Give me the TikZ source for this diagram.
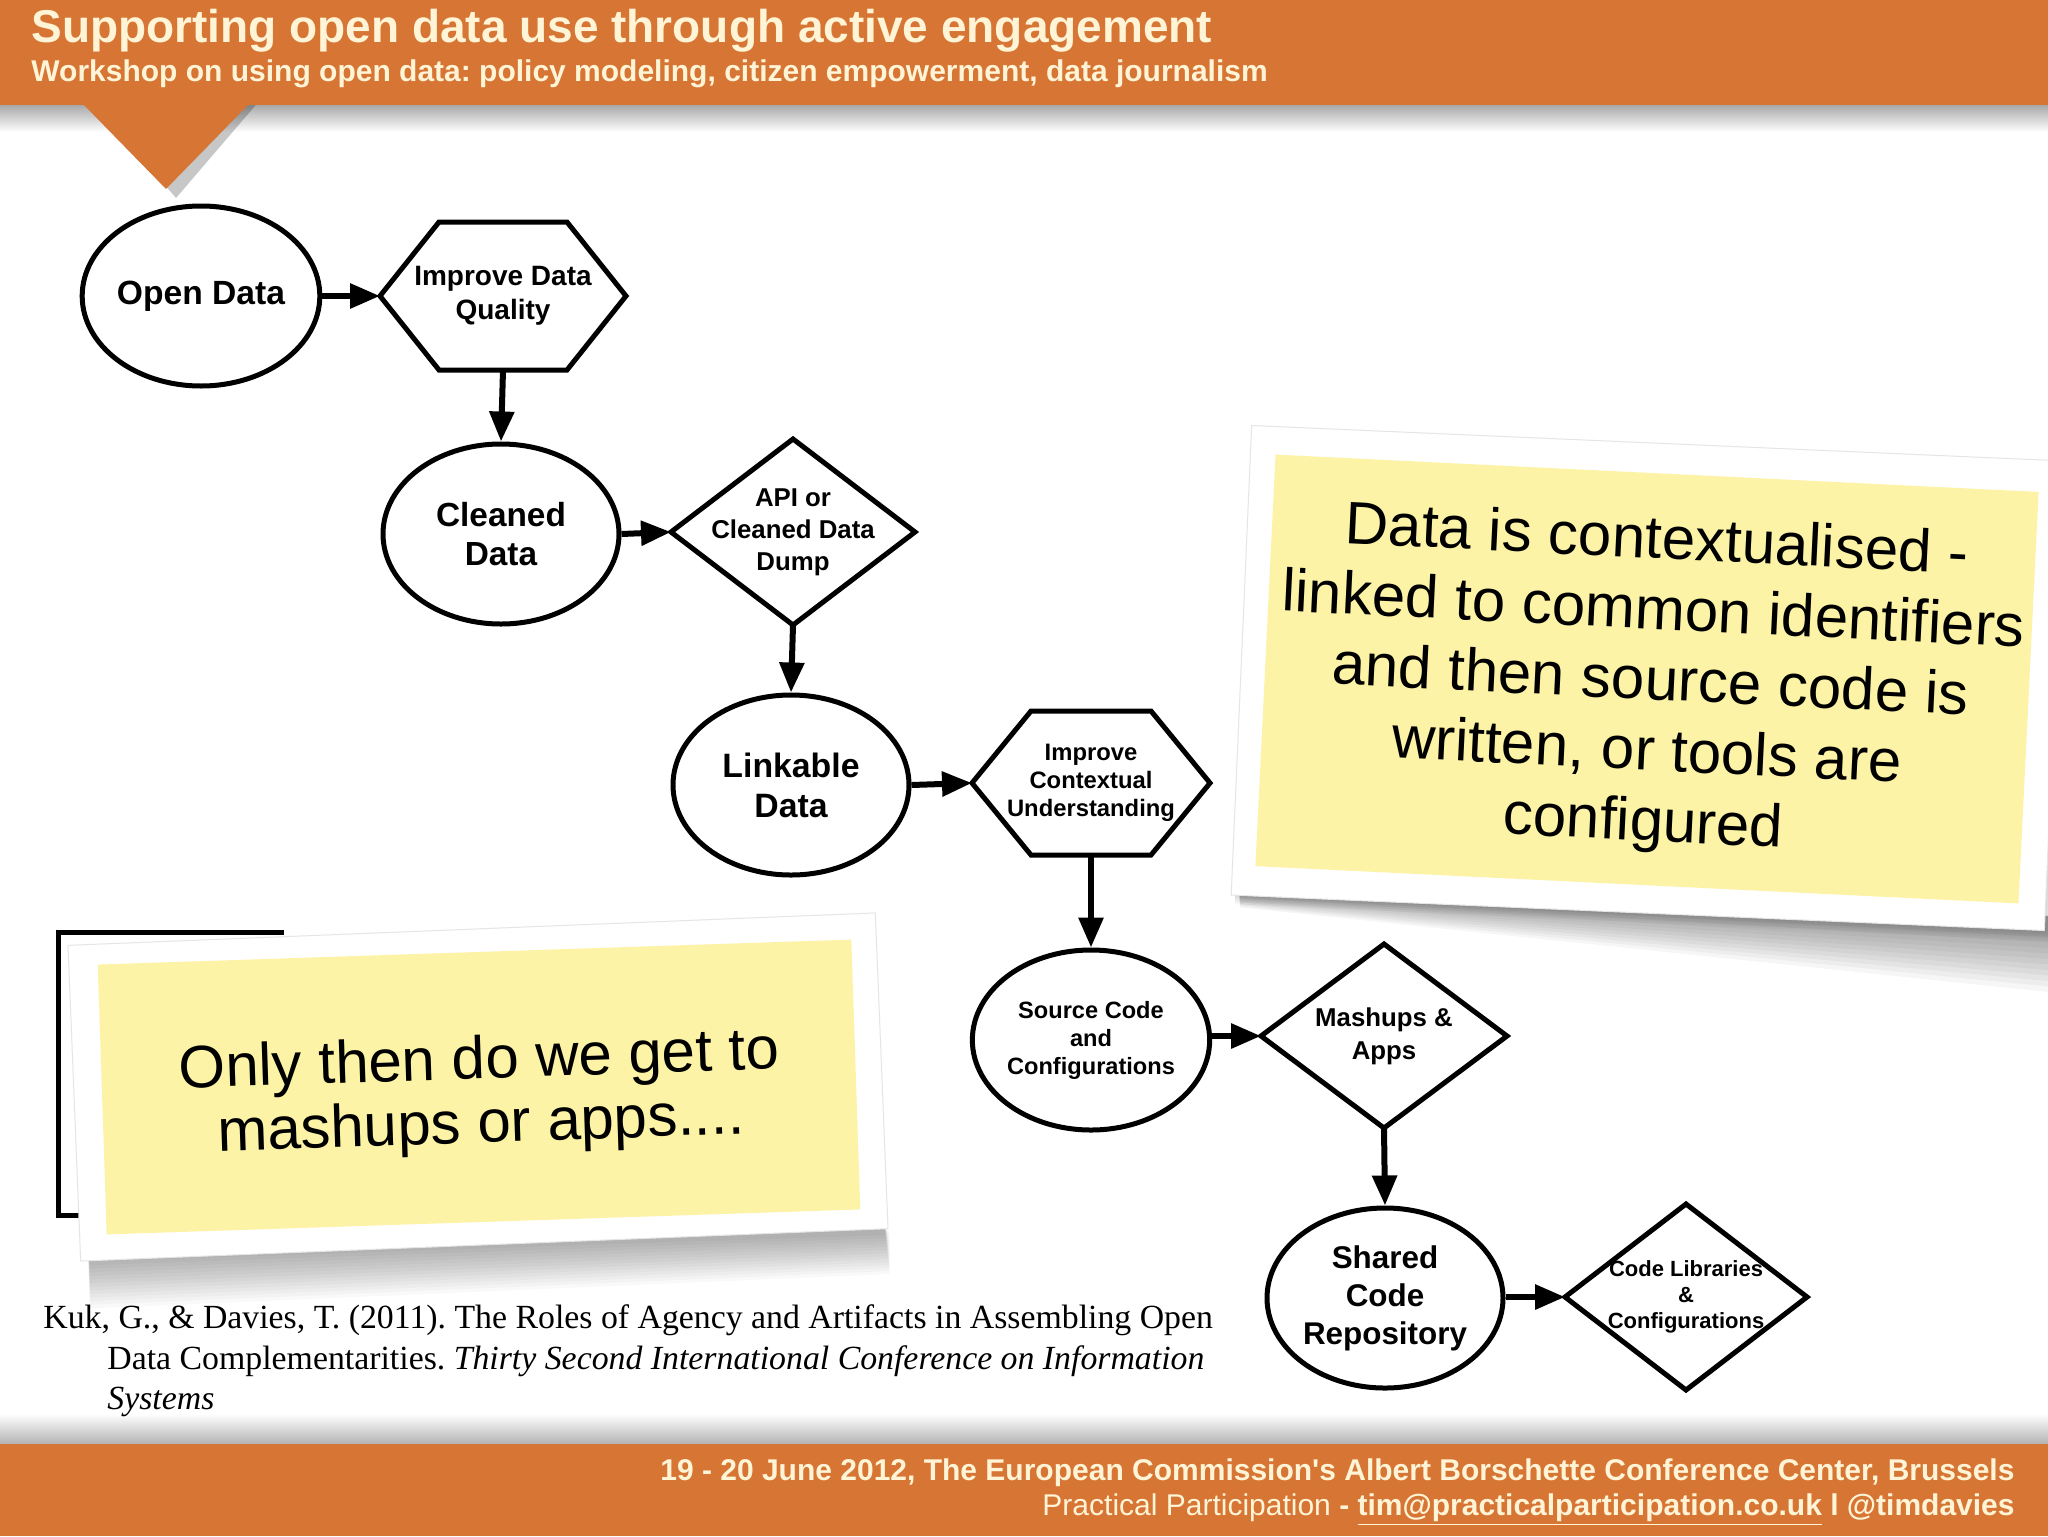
\documentclass[tikz,border=0pt]{standalone}
\usepackage{fontspec}
\setmainfont{Liberation Sans}
\newfontfamily\citefont{Liberation Serif}
\usetikzlibrary{shapes.geometric,arrows.meta,calc}
\definecolor{bandorange}{RGB}{214,117,52}
\definecolor{cream}{RGB}{255,244,214}
\definecolor{noteyellow}{RGB}{252,243,166}
\newcommand\drawdiamond[1]{\draw[shapeline] (#1.west) -- (#1.north) -- (#1.east) -- (#1.south) -- cycle;}
\newcommand\drawhex[2]{\draw[shapeline] (#1.west) -- ($(#1.north west)+(#2,0)$) -- ($(#1.north east)+(-#2,0)$) -- (#1.east) -- ($(#1.south east)+(-#2,0)$) -- ($(#1.south west)+(#2,0)$) -- cycle;}
\frenchspacing
\begin{document}
\begin{tikzpicture}[x=0.5pt,y=-0.5pt,
  ell/.style={ellipse, draw, line width=2.5pt, minimum width=118pt, minimum height=90pt, inner sep=0pt, align=center},
  shapebox/.style={rectangle, inner sep=0pt, outer sep=0pt, align=center},
  shapeline/.style={line width=2.5pt, line join=miter},
  arr/.style={line width=3pt, -{Triangle[length=15pt,width=12pt]}},
  bandtext/.style={text=cream, inner sep=0pt},
  notetext/.style={align=center, inner sep=0pt, font=\fontsize{30}{35.3}\selectfont},
  citetext/.style={anchor=base west, inner sep=0pt, font=\citefont\fontsize{16.9}{20}\selectfont}
]
\useasboundingbox (0,0) rectangle (2048,1536);
\fill[white] (0,0) rectangle (2048,1536);

% ---------- header ----------
\shade[top color=black!40, bottom color=white] (0,100) rectangle (2048,132);
\fill[black, opacity=0.22] (92,100) -- (260,100) -- (176,198) -- cycle;
\fill[bandorange] (0,0) rectangle (2048,105);
\fill[bandorange] (83,104) -- (249,104) -- (166,189) -- cycle;
\node[bandtext, anchor=base west, font=\fontsize{23}{27}\selectfont\bfseries] (title) at (31,43) {Supporting open data use through active engagement};
\node[bandtext, anchor=base west, font=\fontsize{15}{18}\selectfont\bfseries] (subtitle) at (31,82) {Workshop on using open data: policy modeling, citizen empowerment, data journalism};

% ---------- footer ----------
\shade[top color=white, bottom color=black!30] (0,1414) rectangle (2048,1444);
\fill[bandorange] (0,1444) rectangle (2048,1536);
\node[bandtext, anchor=base east, font=\fontsize{15}{18}\selectfont\bfseries] (foot1) at (2015,1480) {19 - 20 June 2012, The European Commission\textquotesingle s Albert Borschette Conference Center, Brussels};
\node[bandtext, anchor=base east, font=\fontsize{15}{18}\selectfont] (foot2) at (2015,1515) {Practical Participation \textbf{- \underline{tim@practicalparticipation.co.uk} l @timdavies}};

% ---------- right sticky note ----------
\foreach \i in {1,...,12}
  \fill[black, opacity=0.035] (1238,880) -- (2048,916) -- (2048,926+5.5*\i) -- (1240,893+1.2*\i) -- cycle;
\foreach \i in {1,...,5}
  \node[rotate=-2.6, fill=black, opacity=0.03, inner sep=0pt,
        minimum width={(405+\i)*1pt}, minimum height={(233+\i)*1pt}] at (1650+\i, 680+\i) {};
\node[rotate=-2.5, fill=white, draw=black!10, line width=0.5pt, inner sep=0pt,
      minimum width=407pt, minimum height=235pt] (rpaper) at (1648,678) {};
\node[rotate=-2.8, fill=noteyellow, inner sep=0pt,
      minimum width=382pt, minimum height=206pt] (ryellow) at (1647,679) {};
\node[notetext, rotate=-2.8] (rtext) at (1650,684)
  {Data is contextualised -\\linked to common identifiers\\and then source code is\\written, or tools are\\configured};

% ---------- left sticky note ----------
\draw[line width=2.5pt] (284,932) -- (58,932) -- (58,1215) -- (80,1215);
\foreach \i in {1,...,14}
  \fill[black, opacity=0.022] (88,1250) -- (884,1222) -- (890,1232+3.0*\i) -- (90,1258+3.6*\i) -- cycle;
\node[rotate=2.3, fill=white, draw=black!10, line width=0.5pt, inner sep=0pt,
      minimum width=404pt, minimum height=158pt] (lpaper) at (478,1087) {};
\node[rotate=1.9, fill=noteyellow, inner sep=0pt,
      minimum width=377pt, minimum height=135pt] (lyellow) at (479,1087) {};
\node[notetext, rotate=1.9, font=\fontsize{30}{32}\selectfont] (ltext) at (480,1095)
  {Only then do we get to\\mashups or apps....};

% ---------- citation ----------
\node[citetext] (cite1) at (43,1328)
  {Kuk, G., \& Davies, T. (2011). The Roles of Agency and Artifacts in Assembling Open};
\node[citetext] (cite2) at (107,1369)
  {Data Complementarities. \textit{Thirty Second International Conference on Information}};
\node[citetext] (cite3) at (107,1409)
  {\textit{Systems}};

% ---------- flow chart ----------
\node[ell, font=\fontsize{16.8}{19.5}\selectfont\bfseries] (od) at (201,296) {Open Data};
\node[shapebox, minimum width=123pt, minimum height=74pt, font=\fontsize{14}{17}\selectfont\bfseries] (hq) at (503,296) {Improve Data\\Quality};
\drawhex{hq}{59}
\node[ell, font=\fontsize{16.7}{19.5}\selectfont\bfseries] (cl) at (501,534) {Cleaned\\Data};
\node[shapebox, minimum width=122pt, minimum height=93pt, font=\fontsize{12.9}{16}\selectfont\bfseries] (api) at (793,532) {API or\\Cleaned Data\\Dump};
\drawdiamond{api}
\node[ell, font=\fontsize{16.9}{20}\selectfont\bfseries] (lk) at (791,785) {Linkable\\Data};
\node[shapebox, minimum width=119pt, minimum height=72pt, font=\fontsize{11.9}{14}\selectfont\bfseries] (hc) at (1091,783) {Improve\\Contextual\\Understanding};
\drawhex{hc}{59}
\node[ell, font=\fontsize{11.8}{14}\selectfont\bfseries] (src) at (1091,1040) {Source Code\\and\\Configurations};
\node[shapebox, minimum width=123pt, minimum height=92pt, font=\fontsize{12.9}{16.5}\selectfont\bfseries] (mash) at (1384,1036) {Mashups \&\\Apps};
\drawdiamond{mash}
\node[ell, font=\fontsize{15.7}{19}\selectfont\bfseries] (sh) at (1385,1298) {Shared\\Code\\Repository};
\node[shapebox, minimum width=121pt, minimum height=93pt, font=\fontsize{11}{13}\selectfont\bfseries] (lib) at (1686,1297) {Code Libraries\\\&\\Configurations};
\drawdiamond{lib}

\draw[arr] (od.east) -- (hq.west);
\draw[arr] (hq.south) -- (cl.north);
\draw[arr] (cl.east) -- (api.west);
\draw[arr] (api.south) -- (lk.north);
\draw[arr] (lk.east) -- (hc.west);
\draw[arr] (hc.south) -- (src.north);
\draw[arr] (src.east |- mash.west) -- (mash.west);
\draw[arr] (mash.south) -- (sh.north);
\draw[arr] (sh.east |- lib.west) -- (lib.west);
\end{tikzpicture}
\end{document}
